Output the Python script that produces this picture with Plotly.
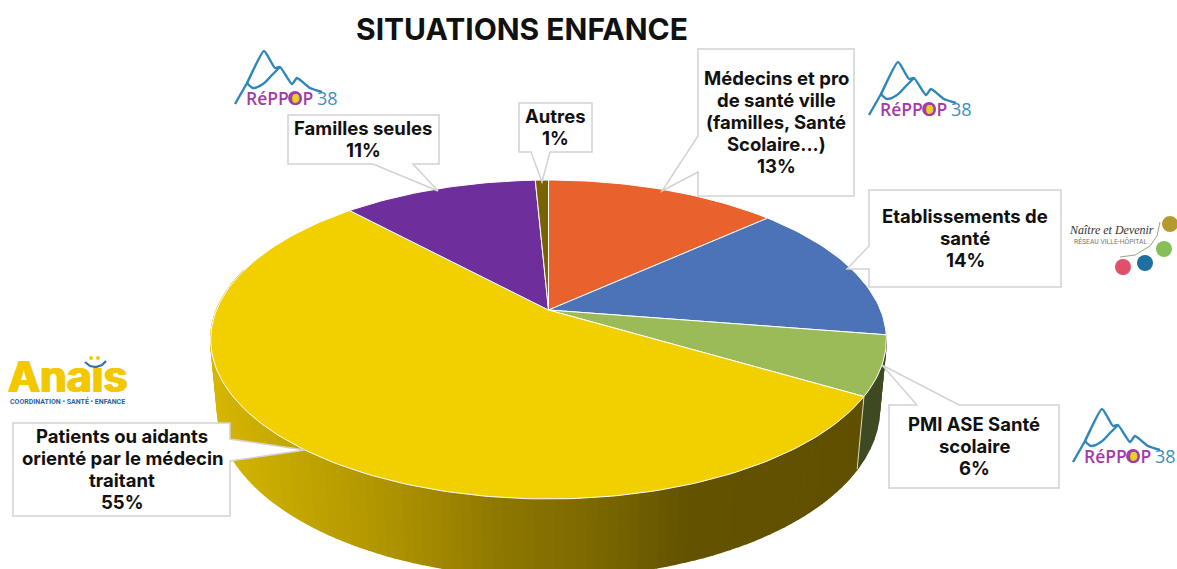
import math
import plotly.graph_objects as go

# ---- data ----
categories = ["Médecins et pro de santé ville (familles, Santé Scolaire...)",
              "Etablissements de santé", "PMI ASE Santé scolaire",
              "Patients ou aidants orienté par le médecin traitant",
              "Familles seules", "Autres"]
values = [13.3, 14.2, 6.0, 54.6, 11.15, 0.75]
top_colors = ["#E9622D", "#4C72B8", "#9BBB59", "#F2D000", "#6E2E9C", "#7A6200"]
title_text = "SITUATIONS ENFANCE"
label_lines = [["Médecins et pro", "de santé ville", "(familles, Santé", "Scolaire...)", "13%"],
               ["Etablissements de", "santé", "14%"],
               ["PMI ASE Santé", "scolaire", "6%"],
               ["Patients ou aidants", "orienté par le médecin", "traitant", "55%"],
               ["Familles seules", "11%"],
               ["Autres", "1%"]]
label_pos = [(776, 122), (965, 238), (974, 446), (122, 469), (363, 139), (555, 127)]
callouts = [
    [(698, 49), (854, 49), (854, 196), (698, 196), (698, 172), (662, 191), (698, 136)],
    [(869, 190), (1061, 190), (1061, 287), (869, 287), (869, 269), (847, 269), (869, 246)],
    [(889, 405), (917, 405), (882, 365), (959, 405), (1059, 405), (1059, 488), (889, 488)],
    [(13, 423), (230, 423), (230, 439), (305, 450), (230, 461), (230, 516), (13, 516)],
    [(288, 115), (439, 115), (439, 164), (413, 164), (438, 191), (373, 164), (288, 164)],
    [(519, 103), (592, 103), (592, 152), (550, 152), (542, 182), (531, 152), (519, 152)],
]
shade_x = [212, 400, 500, 600, 683, 860]
shade_r = [216, 172, 143, 122, 100, 96]
shade_g = [184, 146, 120, 103, 84, 80]

# ---- pie projection ----
PX, PY, A, B, K, M, D = 548.5, 310, 332, 154, 0.185, 0.02, 69
FONT = "Inter"


def project(theta_deg, low=False):
    t = math.radians(theta_deg)
    u, v = math.sin(t), math.cos(t)
    den = 1 + K * v + (M if low else 0)
    return PX + A * u / den, PY + (-B * v + (D if low else 0)) / den


def shade(x):
    x = min(max(x, shade_x[0]), shade_x[-1])
    for i in range(len(shade_x) - 1):
        if x <= shade_x[i + 1]:
            r = (x - shade_x[i]) / (shade_x[i + 1] - shade_x[i])
            return "rgb(%d,%d,0)" % (shade_r[i] + (shade_r[i + 1] - shade_r[i]) * r,
                                     shade_g[i] + (shade_g[i + 1] - shade_g[i]) * r)


fig = go.Figure()
total = sum(values)
edges = [0.0]
for val in values:
    edges.append(edges[-1] + val / total * 360)


def strip(t0, t1, color):
    n0, n1 = project(t0), project(t1)
    l1, l0 = project(t1, True), project(t0, True)
    xs = [n0[0], n1[0], l1[0], l0[0], n0[0]]
    ys = [n0[1], n1[1], l1[1], l0[1], n0[1]]
    fig.add_trace(go.Scatter(x=xs, y=ys, mode="lines", fill="toself", fillcolor=color,
                             line=dict(color=color, width=1.5), showlegend=False, hoverinfo="skip"))


# side wall
t = edges[2]
while t < edges[3]:
    strip(t, min(t + 3, edges[3]), "#3E4A22")
    t += 3
step = 1.5
t = edges[3]
while t < 285:
    strip(t, t + step, shade(project(t + step / 2, True)[0]))
    t += step
# pale edge between wall segments
wl = [project(edges[3]), project(edges[3], True)]
fig.add_trace(go.Scatter(x=[p[0] for p in wl], y=[p[1] for p in wl], mode="lines",
                         line=dict(color="#D8D8C8", width=1), showlegend=False, hoverinfo="skip"))

# top face slices
for i, name in enumerate(categories):
    n = max(3, int(values[i] * 3))
    pts = [(PX, PY)] + [project(edges[i] + (edges[i + 1] - edges[i]) * j / n) for j in range(n + 1)] + [(PX, PY)]
    fig.add_trace(go.Scatter(x=[p[0] for p in pts], y=[p[1] for p in pts], mode="lines", fill="toself",
                             fillcolor=top_colors[i], line=dict(color="#FFFFFF", width=1),
                             name=name, showlegend=False, hoverinfo="skip"))

# ---- callouts ----
shapes = []
for poly in callouts:
    path = "M " + " L ".join(f"{x},{y}" for x, y in poly) + " Z"
    shapes.append(dict(type="path", path=path, xref="x", yref="y", fillcolor="#FFFFFF",
                       line=dict(color="#D2D2D2", width=1.5), layer="above"))

annotations = [dict(x=522, y=29, text=f"<b>{title_text}</b>", showarrow=False, xref="x", yref="y",
                    font=dict(family=FONT, size=30, color="#111111"))]
for lines, (x, y) in zip(label_lines, label_pos):
    for i, txt in enumerate(lines):
        annotations.append(dict(x=x, y=y + (i - (len(lines) - 1) / 2) * 22, text=f"<b>{txt}</b>", showarrow=False,
                                xref="x", yref="y", font=dict(family=FONT, size=18.5, color="#111111")))


def ln(xs, ys, color, width, **kw):
    fig.add_trace(go.Scatter(x=xs, y=ys, mode="lines", line=dict(color=color, width=width, **kw),
                             showlegend=False, hoverinfo="skip"))


# ---- logos ----
m1x = [235, 247, 264, 275, 280, 292, 297, 310, 322]
m1y = [104, 83, 51, 68, 67, 84, 78, 88, 92]
m2x = [247, 253, 263, 272, 280]
m2y = [83, 88, 84, 75, 67]
for dx, dy in [(0, 0), (634, 11), (838, 358)]:
    ln([x + dx for x in m1x], [y + dy for y in m1y], "#2F86B8", 2.4, shape="spline", smoothing=0.5)
    ln([x + dx for x in m2x], [y + dy for y in m2y], "#2F86B8", 2.4, shape="spline", smoothing=0.8)
    annotations.append(dict(x=279 + dx, y=98 + dy, text="RéPPOP", showarrow=False, xref="x", yref="y",
                            font=dict(family="Open Sans", size=17.5, color="#A23BA8", weight=600)))
    annotations.append(dict(x=327 + dx, y=98 + dy, text="38", showarrow=False, xref="x", yref="y",
                            font=dict(family="Open Sans", size=18, color="#3A8FC0")))
    shapes.append(dict(type="circle", xref="x", yref="y", x0=289 + dx, x1=301 + dx, y0=92 + dy, y1=104 + dy,
                       fillcolor="#E6CF2A", line=dict(color="#A23BA8", width=1.8), layer="above"))

# Anais logo: the dotless i is topped by the logo's own smile and two dots
annotations.append(dict(x=68, y=376, text="<b>Anaıs</b>", showarrow=False, xref="x", yref="y",
                        font=dict(family="Inter", size=43, color="#F3C800",
                                  shadow="1px 0 #F3C800, -1px 0 #F3C800")))
annotations.append(dict(x=67.5, y=401, text="<b>COORDINATION • SANTÉ • ENFANCE</b>", showarrow=False,
                        xref="x", yref="y", font=dict(family="Roboto", size=7, color="#2F5FA0")))
ln([85, 90, 96, 102, 106], [362, 366, 367, 365, 361], "#2F6FB5", 2.2)
for cx in (91, 98):
    shapes.append(dict(type="circle", xref="x", yref="y", x0=cx - 2, x1=cx + 2, y0=356, y1=360,
                       fillcolor="#F3C800", line=dict(width=0), layer="above"))

# Naitre et Devenir logo
annotations.append(dict(x=1111, y=230, text="<i>Naître et Devenir</i>", showarrow=False, xref="x", yref="y",
                        font=dict(family="Liberation Serif", size=12, color="#333333")))
annotations.append(dict(x=1110, y=241, text="RÉSEAU VILLE-HÔPITAL", showarrow=False, xref="x", yref="y",
                        font=dict(family="Roboto", size=6.8, color="#777777")))
ln([1120, 1135, 1150, 1157, 1160], [257, 255, 246, 236, 222], "#9AA57A", 1)
for cx, cy, c in [(1123, 267, "#E0506A"), (1145, 263, "#1F6FA0"), (1164, 249, "#85BF5A"), (1170, 224, "#B59A30")]:
    shapes.append(dict(type="circle", xref="x", yref="y", x0=cx - 8, x1=cx + 8, y0=cy - 8, y1=cy + 8,
                       fillcolor=c, line=dict(width=0), layer="above"))

fig.update_layout(width=1177, height=569, margin=dict(l=0, r=0, t=0, b=0), paper_bgcolor="white",
                  plot_bgcolor="white", showlegend=False, hovermode=False, shapes=shapes, annotations=annotations,
                  xaxis=dict(range=[0, 1177], visible=False, fixedrange=True),
                  yaxis=dict(range=[569, 0], visible=False, fixedrange=True))
fig.write_html("out.html", config=dict(displayModeBar=False),
               post_script="document.body.style.margin='0';document.body.style.overflow='hidden';")
